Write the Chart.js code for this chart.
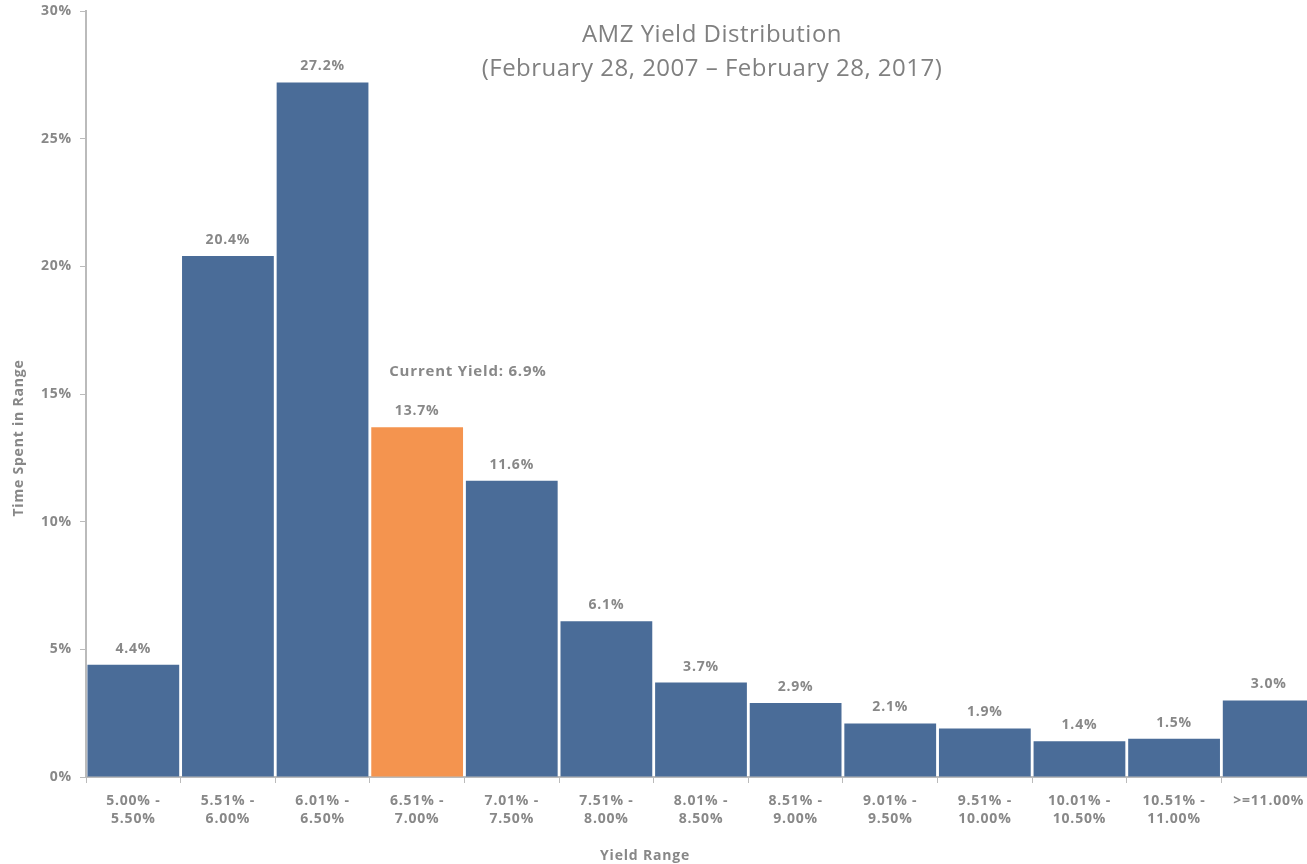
<!DOCTYPE html>
<html>
<head>
<meta charset="utf-8">
<title>AMZ Yield Distribution</title>
<script src="https://cdn.jsdelivr.net/npm/chart.js@4/dist/chart.umd.min.js"></script>
<style>
  html, body { margin: 0; padding: 0; background: #fff; overflow: hidden; }
  #wrap { width: 1307px; height: 864px; overflow: hidden; }
  /* the original chart runs a little past the right edge of the picture */
  #inner { width: 1316px; height: 864px; position: relative; }
</style>
</head>
<body>
<div id="wrap"><div id="inner"><canvas id="chart"></canvas></div></div>
<script>
// yield buckets and time spent (%) in each
const categories = [
  ['5.00% -', '5.50%'], ['5.51% -', '6.00%'], ['6.01% -', '6.50%'], ['6.51% -', '7.00%'],
  ['7.01% -', '7.50%'], ['7.51% -', '8.00%'], ['8.01% -', '8.50%'], ['8.51% -', '9.00%'],
  ['9.01% -', '9.50%'], ['9.51% -', '10.00%'], ['10.01% -', '10.50%'], ['10.51% -', '11.00%'],
  '>=11.00%'
];
const timeSpent = [4.4, 20.4, 27.2, 13.7, 11.6, 6.1, 3.7, 2.9, 2.1, 1.9, 1.4, 1.5, 3.0];
const currentIndex = 3; // bucket holding the current yield
const currentYieldText = 'Current Yield: 6.9%';
const yTicks = [0, 5, 10, 15, 20, 25, 30];

const BLUE = '#4a6c98';
const ORANGE = '#f4944f';
const GREY = '#888888';
const FONT = '"Open Sans", Lato, sans-serif';

const barColors = timeSpent.map((v, i) => i === currentIndex ? ORANGE : BLUE);

// wider letter spacing for the whole chart, like the original
const spacing = {
  id: 'spacing',
  beforeDraw(chart) { chart.ctx.letterSpacing = '0.8px'; }
};

// value labels, title and axis titles drawn on top
const extras = {
  id: 'extras',
  afterDatasetsDraw(chart) {
    const ctx = chart.ctx;
    const meta = chart.getDatasetMeta(0);
    ctx.save();
    ctx.fillStyle = GREY;
    ctx.font = 'bold 14px ' + FONT;
    ctx.textAlign = 'center';
    ctx.textBaseline = 'alphabetic';
    meta.data.forEach((bar, i) => {
      ctx.fillText(timeSpent[i].toFixed(1) + '%', bar.x, bar.y - 12);
    });

    // current yield note
    const cur = meta.data[currentIndex];
    ctx.textAlign = 'left';
    ctx.font = 'bold 15px ' + FONT;
    ctx.fillText(currentYieldText, cur.x - cur.width / 2 + 18, cur.y - 51);

    // title
    ctx.letterSpacing = '0.5px';
    ctx.fillStyle = '#808080';
    ctx.textAlign = 'center';
    ctx.font = '24px ' + FONT;
    ctx.fillText('AMZ Yield Distribution', 712, 42);
    ctx.fillText('(February 28, 2007 \u2013 February 28, 2017)', 712, 76);

    // axis titles
    ctx.letterSpacing = '0.8px';
    ctx.fillStyle = GREY;
    ctx.font = 'bold 14px ' + FONT;
    ctx.fillText('Yield Range', 645, 860);
    ctx.translate(23, 438);
    ctx.rotate(-Math.PI / 2);
    ctx.fillText('Time Spent in Range', 0, 0);
    ctx.restore();
  }
};

new Chart(document.getElementById('chart'), {
  type: 'bar',
  data: {
    labels: categories,
    datasets: [{
      data: timeSpent,
      backgroundColor: barColors,
      borderWidth: 0,
      barPercentage: 0.97,
      categoryPercentage: 1.0
    }]
  },
  options: {
    responsive: true,
    maintainAspectRatio: false,
    animation: false,
    layout: { padding: { top: 11, right: 0, bottom: 0, left: 0 } },
    plugins: {
      legend: { display: false },
      tooltip: { enabled: false }
    },
    scales: {
      x: {
        grid: { offset: true, drawOnChartArea: false, drawTicks: true, tickLength: 6, color: '#bbbbbb' },
        border: { color: '#bbbbbb', width: 2 },
        ticks: {
          color: GREY,
          font: { family: FONT, size: 14, weight: 'bold', lineHeight: 1.3 },
          maxRotation: 0,
          autoSkip: false,
          padding: 9
        },
        afterFit(scale) {
          scale.height = 87;
          scale.paddingLeft = 0;
          scale.paddingRight = 0;
        }
      },
      y: {
        min: 0,
        max: 30,
        afterBuildTicks(scale) { scale.ticks = yTicks.map(v => ({ value: v })); },
        grid: { drawOnChartArea: false, drawTicks: true, tickLength: 6, color: '#bbbbbb' },
        border: { color: '#bbbbbb', width: 2 },
        ticks: {
          color: GREY,
          font: { family: FONT, size: 14, weight: 'bold' },
          padding: 8,
          callback: v => v + '%'
        },
        afterFit(scale) {
          scale.width = 86;
          scale.paddingTop = 0;
          scale.paddingBottom = 0;
        }
      }
    }
  },
  plugins: [spacing, extras]
});
</script>
</body>
</html>
